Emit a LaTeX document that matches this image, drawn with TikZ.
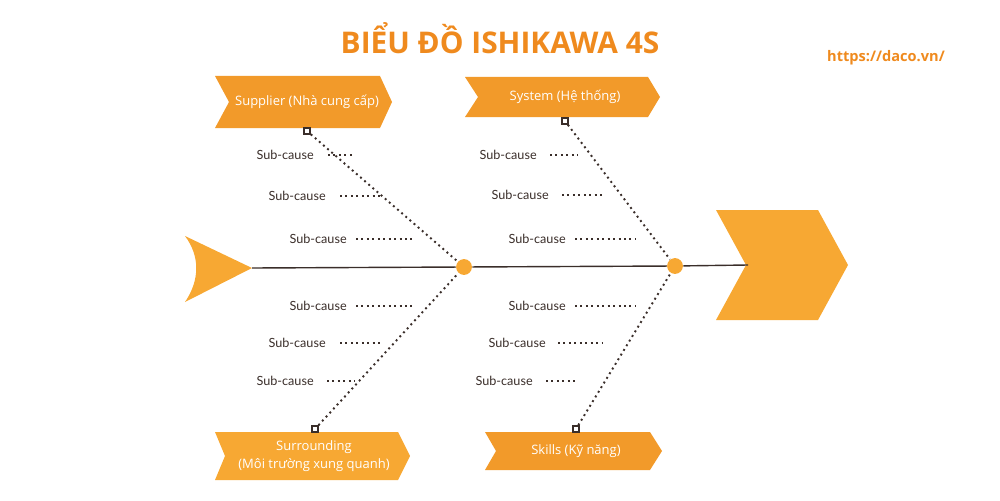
\documentclass[tikz,border=0pt]{standalone}
\usepackage{fontspec}
\setmainfont{Open Sans}
\newfontfamily\subfont{Lato}
\definecolor{orA}{HTML}{F29A2A}
\definecolor{orB}{HTML}{F7A833}
\definecolor{ttl}{HTML}{EF8A1E}
\definecolor{ink}{HTML}{3A2E2A}
\tikzset{
 bone/.style={ink,line width=1.1pt,dotted},
 sub/.style={ink,line width=1.1pt,dotted},
 subtxt/.style={font=\subfont\fontsize{7.2}{8}\selectfont,text=ink,anchor=east,inner sep=0},
 lbl/.style={font=\fontsize{7.4}{10}\selectfont,text=white,align=center,inner sep=0},
 endsq/.style={draw=ink,fill=white,line width=0.8pt,minimum size=3.5pt,inner sep=0,rectangle},
 jn/.style={circle,fill=orB,minimum size=9pt,inner sep=0}
}
\begin{document}
\begin{tikzpicture}[x=0.02cm,y=-0.02cm]
\useasboundingbox (0,0) rectangle (1000,500);
\node[font=\bfseries\fontsize{17}{20}\selectfont,text=ttl] (title) at (500,38) {BIỂU ĐỒ ISHIKAWA 4S};
\node[font=\bfseries\fontsize{8.3}{10}\selectfont,text=ttl] (url) at (886,58) {https://daco.vn/};
% tail and head
\fill[orB] (185,236) -- (252,268) -- (185,302) .. controls (200,280) and (200,256) .. (185,236);
\fill[orB] (716,210) -- (818,210) -- (848,265) -- (818,320) -- (716,320) -- (746,265) -- cycle;
\coordinate (tail) at (252,268);
\coordinate (head) at (748,265);
\node[jn] (j1) at (464,267) {};
\node[jn] (j2) at (675,266) {};
\draw[ink,line width=0.8pt] (tail) -- (j1) -- (j2) -- (head);
% chevron boxes
\fill[orA] (215,76) -- (380,76) -- (392,102) -- (380,128) -- (215,128) -- (229,102) -- cycle;
\node[lbl] (sup) at (307,102) {Supplier (Nhà cung cấp)};
\fill[orA] (465,77) -- (648,77) -- (660,97) -- (648,117) -- (465,117) -- (478,97) -- cycle;
\node[lbl] (sys) at (565,97) {System (Hệ thống)};
\fill[orB] (215,432) -- (398,432) -- (410,456) -- (398,480) -- (215,480) -- (225,456) -- cycle;
\node[lbl] (sur) at (314,456) {Surrounding\\(Môi trường xung quanh)};
\fill[orA] (485,432) -- (650,432) -- (662,451) -- (650,470) -- (485,470) -- (496,451) -- cycle;
\node[lbl] (ski) at (576,451) {Skills (Kỹ năng)};
% bones
\node[endsq] (e1) at (307,131) {};
\node[endsq] (e2) at (315,429) {};
\node[endsq] (e3) at (565,121) {};
\node[endsq] (e4) at (576,429) {};
\draw[bone] (e1) -- (j1);
\draw[bone] (e2) -- (j1);
\draw[bone] (e3) -- (j2);
\draw[bone] (e4) -- (j2);
% sub-causes
\foreach \tx/\ty/\da/\db [count=\i] in {
 314/155/328/355, 326/196/340/380, 347/239/356/415,
 347/306/356/415, 326/343/340/383, 314/381/327/355,
 537/155/550/578, 549/195/562/605, 566/239/575/635,
 566/306/575/636, 546/343/558/603, 533/381/546/575}{
 \node[subtxt] (s\i) at (\tx,\ty) {Sub-cause};
 \coordinate (sa\i) at (\da,\ty);
 \coordinate (sb\i) at (\db,\ty);
 \draw[sub] (sa\i) -- (sb\i);
}
\end{tikzpicture}
\end{document}
